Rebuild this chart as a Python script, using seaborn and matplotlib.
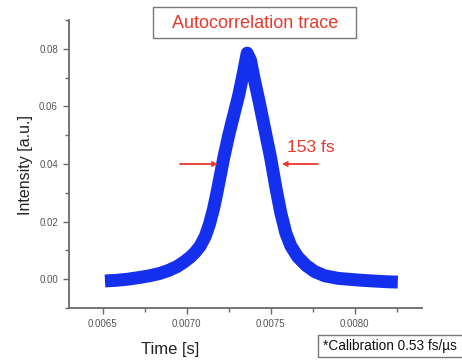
import matplotlib
matplotlib.use("Agg")
import matplotlib.pyplot as plt
import seaborn as sns
import pandas as pd
from matplotlib.ticker import AutoMinorLocator, FixedLocator
from matplotlib.patches import Rectangle

# ---- data ----
time_s = [0.006514, 0.00658, 0.00665, 0.00672, 0.00678, 0.00684, 0.00689,
          0.00694, 0.00698, 0.00702, 0.00705, 0.00708, 0.00711, 0.007135,
          0.00716, 0.00718, 0.00720, 0.00722, 0.00725, 0.00728, 0.00731,
          0.007335, 0.00736, 0.00738, 0.00740, 0.00743, 0.007465, 0.00750,
          0.00753, 0.00756, 0.00759, 0.00762, 0.00766, 0.00771, 0.00776,
          0.00782, 0.00790, 0.00800, 0.00810, 0.00820, 0.008256]
intensity = [-0.0006, -0.0004, 0.0000, 0.0006, 0.0012, 0.0020, 0.0030,
             0.0043, 0.0058, 0.0076, 0.0093, 0.0115, 0.0148, 0.0190,
             0.0245, 0.0300, 0.0360, 0.0420, 0.0500, 0.0570, 0.0640,
             0.0710, 0.0785, 0.0760, 0.0700, 0.0620, 0.0520, 0.0420,
             0.0320, 0.0230, 0.0160, 0.0115, 0.0078, 0.0048, 0.0027,
             0.0012, 0.0003, -0.0002, -0.0006, -0.0009, -0.0010]
x_ticks = [0.0065, 0.0070, 0.0075, 0.0080]
x_tick_labels = ["0.0065", "0.0070", "0.0075", "0.0080"]
y_ticks = [0.00, 0.02, 0.04, 0.06, 0.08]
y_tick_labels = ["0.00", "0.02", "0.04", "0.06", "0.08"]
fwhm_level = 0.04
fwhm_left = 0.007186
fwhm_right = 0.007566
fwhm_text = "153 fs"
title_text = "Autocorrelation trace"
calib_text = "*Calibration 0.53 fs/\u00b5s"

df = pd.DataFrame({"Time [s]": time_s, "Intensity [a.u.]": intensity})

sns.set_style("ticks")
plt.rcParams["font.family"] = ["Liberation Sans", "DejaVu Sans"]

RED = "#e8392e"
BLUE = "#1430ee"
GREY = "#6a6a6a"

fig = plt.figure(figsize=(4.62, 3.63), dpi=100)
ax = fig.add_axes([69 / 462, 1 - 308 / 363, 353 / 462, 288 / 363])

sns.lineplot(data=df, x="Time [s]", y="Intensity [a.u.]", ax=ax,
             color=BLUE, linewidth=9.3, solid_capstyle="butt",
             solid_joinstyle="round", sort=False)

ax.set_xlim(0.0063, 0.0084)
ax.set_ylim(-0.010, 0.090)

ax.xaxis.set_major_locator(FixedLocator(x_ticks))
ax.set_xticklabels(x_tick_labels)
ax.yaxis.set_major_locator(FixedLocator(y_ticks))
ax.set_yticklabels(y_tick_labels)
ax.xaxis.set_minor_locator(AutoMinorLocator(2))
ax.yaxis.set_minor_locator(AutoMinorLocator(2))

ax.tick_params(which="major", direction="out", length=4, width=1,
               color=GREY, labelsize=7, labelcolor="#555555", pad=4)
ax.tick_params(which="minor", direction="out", length=3, width=1, color=GREY)

for side in ["top", "right"]:
    ax.spines[side].set_visible(False)
for side in ["left", "bottom"]:
    ax.spines[side].set_color(GREY)
    ax.spines[side].set_linewidth(1.3)

ax.set_xlabel("Time [s]", fontsize=12, color="#222222")
ax.xaxis.set_label_coords((170 - 69) / 353, (308 - 342) / 288)
ax.set_ylabel("Intensity [a.u.]", fontsize=11.5, color="#222222")
ax.yaxis.set_label_coords((33 - 69) / 353, (308 - 165) / 288)

# FWHM arrows
ax.annotate("", xy=(fwhm_left, fwhm_level), xytext=(0.006960, fwhm_level),
            arrowprops=dict(arrowstyle="-|>", color=RED, lw=1.3,
                            mutation_scale=7, shrinkA=0, shrinkB=0))
ax.annotate("", xy=(fwhm_right, fwhm_level), xytext=(0.007780, fwhm_level),
            arrowprops=dict(arrowstyle="-|>", color=RED, lw=1.3,
                            mutation_scale=7, shrinkA=0, shrinkB=0))
ax.text(0.007596, 0.0456, fwhm_text, color=RED, fontsize=12.5,
        ha="left", va="center")

# Title box
fig.patches.append(Rectangle((153 / 462, 1 - 38 / 363), 203 / 462, 31 / 363,
                             transform=fig.transFigure, facecolor="white",
                             edgecolor="#777777", linewidth=1.0))
fig.text(255 / 462, 1 - 23 / 363, title_text, color=RED, fontsize=13,
         ha="center", va="center")

# Calibration box
fig.patches.append(Rectangle((318 / 462, 1 - 357 / 363), 160 / 462, 22 / 363,
                             transform=fig.transFigure, facecolor="white",
                             edgecolor="#777777", linewidth=1.0))
fig.text(323 / 462, 1 - 346 / 363, calib_text, color="#111111", fontsize=9.8,
         ha="left", va="center")

fig.savefig("out.png", dpi=100)
